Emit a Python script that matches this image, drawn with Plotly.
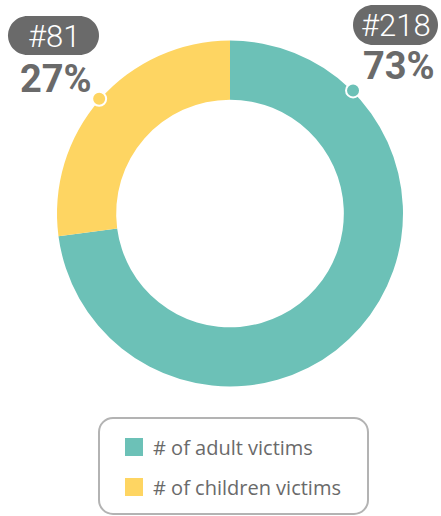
import math
import plotly.graph_objects as go

labels = ["# of adult victims", "# of children victims"]
values = [218, 81]
colors = ["#6CC1B7", "#FED562"]

W, H = 441, 516
CX, CY, R = 230, 213.5, 173
HOLE = 0.658
FONT = "Roboto"
LEG_FONT = "Open Sans"


def px(x):
    return x / W


def py(y):
    return 1 - y / H


def rounded_rect(x0, y0, x1, y1, r):
    k = 0.5523 * r
    pts = [
        f"M{px(x0 + r)},{py(y0)}",
        f"L{px(x1 - r)},{py(y0)}",
        f"C{px(x1 - r + k)},{py(y0)} {px(x1)},{py(y0 + r - k)} {px(x1)},{py(y0 + r)}",
        f"L{px(x1)},{py(y1 - r)}",
        f"C{px(x1)},{py(y1 - r + k)} {px(x1 - r + k)},{py(y1)} {px(x1 - r)},{py(y1)}",
        f"L{px(x0 + r)},{py(y1)}",
        f"C{px(x0 + r - k)},{py(y1)} {px(x0)},{py(y1 - r + k)} {px(x0)},{py(y1 - r)}",
        f"L{px(x0)},{py(y0 + r)}",
        f"C{px(x0)},{py(y0 + r - k)} {px(x0 + r - k)},{py(y0)} {px(x0 + r)},{py(y0)}",
        "Z",
    ]
    return " ".join(pts)


fig = go.Figure(
    go.Pie(
        labels=labels,
        values=values,
        hole=HOLE,
        sort=False,
        direction="clockwise",
        rotation=0,
        marker=dict(colors=colors, line=dict(width=0)),
        textinfo="none",
        hoverinfo="skip",
        showlegend=False,
        domain=dict(x=[px(CX - R), px(CX + R)], y=[py(CY + R), py(CY - R)]),
    )
)

total = sum(values)
shapes = []
annotations = []

child_mid = 360 - values[1] / total * 360 / 2
blocks = [
    (1, (8, 16, 99, 55), (56, 79), child_mid),
    (0, (353, 5, 438, 45), (399, 66), 45),
]
for idx, (x0, y0, x1, y1), (tx, ty), ang in blocks:
    shapes.append(dict(type="path", xref="paper", yref="paper",
                       path=rounded_rect(x0, y0, x1, y1, (y1 - y0) / 2),
                       fillcolor="#6A6A6A", line=dict(width=0), layer="above"))
    annotations.append(dict(x=px((x0 + x1) / 2), y=py((y0 + y1) / 2 + 1), xref="paper", yref="paper",
                            text=f"#{values[idx]}", showarrow=False, xanchor="center", yanchor="middle",
                            font=dict(family=FONT, size=31, color="white", weight=300)))
    pct = round(values[idx] / total * 100)
    annotations.append(dict(x=px(tx), y=py(ty), xref="paper", yref="paper",
                            text=f"<b>{pct}%</b>", showarrow=False, xanchor="center", yanchor="middle",
                            font=dict(family=FONT, size=38, color="#6A6A6A")))
    a = math.radians(ang)
    dx = CX + (R + 1) * math.sin(a)
    dy = CY - (R + 1) * math.cos(a)
    shapes.append(dict(type="circle", xref="paper", yref="paper", xsizemode="pixel", ysizemode="pixel",
                       xanchor=px(dx), yanchor=py(dy), x0=-7, x1=7, y0=-7, y1=7,
                       fillcolor=colors[idx], line=dict(color="white", width=2), layer="above"))

# legend box
shapes.append(dict(type="path", xref="paper", yref="paper",
                   path=rounded_rect(99, 418, 368, 514, 14),
                   fillcolor="white", line=dict(color="#B3B3B3", width=2)))
for i, (lab, col) in enumerate(zip(labels, colors)):
    yc = 447 + i * 40
    shapes.append(dict(type="rect", xref="paper", yref="paper",
                       x0=px(125), x1=px(143), y0=py(yc - 9), y1=py(yc + 9),
                       fillcolor=col, line=dict(width=0)))
    annotations.append(dict(x=px(151), y=py(yc), xref="paper", yref="paper", text=lab,
                            showarrow=False, xanchor="left", yanchor="middle",
                            font=dict(family=LEG_FONT, size=20, color="#6A6A6A")))

fig.update_layout(
    width=W, height=H,
    margin=dict(l=0, r=0, t=0, b=0),
    paper_bgcolor="white", plot_bgcolor="white",
    shapes=shapes, annotations=annotations,
)

fig.write_html("out.html", config={"displayModeBar": False},
               post_script="document.body.style.margin='0';document.body.style.overflow='hidden';")
